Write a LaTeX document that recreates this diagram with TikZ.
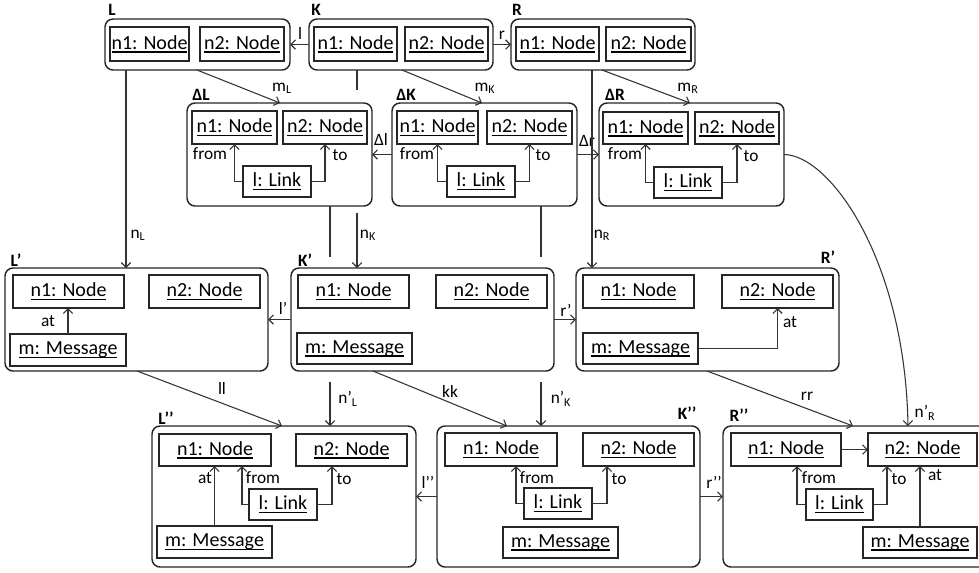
\documentclass[tikz,border=0pt]{standalone}
\usepackage{fontspec}
\setmainfont{Carlito}
\usetikzlibrary{arrows.meta,calc}

% underlined object name with a fixed underline position
\newcommand\objname[1]{\setbox0\hbox{#1}\rlap{\rule[-2.6pt]{\wd0}{0.9pt}}\box0}
% rounded graph frame given by two corners (x1,y1,x2,y2 in px)
\newcommand\frm[5]{\node[frame, minimum width={(#4-#2)*0.75pt}, minimum height={(#5-#3)*0.75pt}] (#1) at ({(#2+#4)/2},{(#3+#5)/2}) {};}
% object box given by two corners
\newcommand\objbox[6]{\node[obj, minimum width={(#4-#2)*0.75pt}, minimum height={(#5-#3)*0.75pt}] (#1) at ({(#2+#4)/2},{(#3+#5)/2}) {\objname{#6}};}
% small text label
\newcommand\lab[4]{\node[elab] (#1) at (#2,#3) {#4};}
% bold graph title
\newcommand\ttl[4]{\node[ttlstyle] (#1) at (#2,#3) {#4};}

\begin{document}
\begin{tikzpicture}[x=0.75pt,y=-0.75pt,
  frame/.style={draw=black!85, line width=1.1pt, rounded corners=6pt, fill=white, inner sep=0pt, outer sep=0pt},
  obj/.style={draw=black!85, line width=1.1pt, fill=white, inner sep=0pt, outer sep=0pt, font=\fontsize{15}{18}\selectfont},
  conn/.style={draw=black!80, line width=0.8pt, -{Straight Barb[length=3.5pt,width=7pt]}},
  plainline/.style={draw=black!80, line width=0.8pt},
  elab/.style={inner sep=0pt, font=\fontsize{13}{15}\selectfont},
  ttlstyle/.style={inner sep=0pt, font=\fontsize{13}{15}\selectfont\bfseries},
]
\useasboundingbox (0,0) rectangle (979,572);
\clip (0,0) rectangle (979,572);

% ---- graph frames ----
\frm{L}{105}{19}{290}{70}
\frm{K}{309}{19}{493}{70}
\frm{R}{511}{19}{695}{70}
\frm{dL}{187}{103}{372}{206}
\frm{dK}{392}{103}{577}{206}
\frm{dR}{599}{103}{784}{206}
\frm{Lp}{5}{268}{268}{371}
\frm{Kp}{291}{268}{554}{371}
\frm{Rp}{576}{268}{839}{371}
\frm{Lpp}{152}{426}{416}{567}
\frm{Kpp}{437}{426}{700}{567}
\frm{Rpp}{723}{426}{1000}{567}

% ---- titles ----
\ttl{tL}{112}{10}{L}
\ttl{tK}{316}{10}{K}
\ttl{tR}{517}{10}{R}
\ttl{tdL}{201}{95}{ΔL}
\ttl{tdK}{406}{95}{ΔK}
\ttl{tdR}{615}{95}{ΔR}
\ttl{tLp}{16}{260}{L’}
\ttl{tKp}{305}{260}{K’}
\ttl{tRp}{828}{257}{R’}
\ttl{tLpp}{166}{418}{L’’}
\ttl{tKpp}{687}{413}{K’’}
\ttl{tRpp}{739}{415}{R’’}

% ---- objects ----
\objbox{Ln1}{110}{27}{189}{61}{n1: Node}
\objbox{Ln2}{200}{27}{284}{61}{n2: Node}
\objbox{Kn1}{314}{27}{397}{61}{n1: Node}
\objbox{Kn2}{405}{27}{488}{61}{n2: Node}
\objbox{Rn1}{516}{27}{599}{61}{n1: Node}
\objbox{Rn2}{606}{27}{691}{61}{n2: Node}

\objbox{dLn1}{192}{111}{277}{144}{n1: Node}
\objbox{dLn2}{283}{111}{367}{144}{n2: Node}
\objbox{dLl}{243}{166}{311}{197}{l: Link}
\objbox{dKn1}{397}{111}{478}{144}{n1: Node}
\objbox{dKn2}{487}{111}{572}{144}{n2: Node}
\objbox{dKl}{447}{166}{515}{197}{l: Link}
\objbox{dRn1}{603}{112}{688}{144}{n1: Node}
\objbox{dRn2}{695}{112}{779}{144}{n2: Node}
\objbox{dRl}{654}{167}{722}{198}{l: Link}

\objbox{Lpn1}{13}{275}{124}{308}{n1: Node}
\objbox{Lpn2}{149}{275}{260}{308}{n2: Node}
\objbox{Lpm}{10}{334}{126}{366}{m: Message}
\objbox{Kpn1}{298}{275}{409}{308}{n1: Node}
\objbox{Kpn2}{436}{275}{547}{308}{n2: Node}
\objbox{Kpm}{297}{333}{412}{364}{m: Message}
\objbox{Rpn1}{583}{275}{694}{308}{n1: Node}
\objbox{Rpn2}{722}{275}{833}{308}{n2: Node}
\objbox{Rpm}{583}{333}{698}{364}{m: Message}

\objbox{Lppn1}{159}{434}{271}{466}{n1: Node}
\objbox{Lppn2}{296}{434}{407}{466}{n2: Node}
\objbox{Lppl}{249}{489}{317}{520}{l: Link}
\objbox{Lppm}{157}{526}{272}{558}{m: Message}
\objbox{Kppn1}{445}{433}{557}{466}{n1: Node}
\objbox{Kppn2}{583}{433}{694}{466}{n2: Node}
\objbox{Kppl}{524}{488}{592}{519}{l: Link}
\objbox{Kppm}{503}{527}{618}{558}{m: Message}
\objbox{Rppn1}{731}{433}{841}{466}{n1: Node}
\objbox{Rppn2}{868}{433}{977}{466}{n2: Node}
\objbox{Rppl}{806}{489}{873}{520}{l: Link}
\objbox{Rppm}{863}{527}{977}{558}{m: Message}

% ---- links inside the graphs ----
\draw[conn] (dLl.west) -| (dLn1.south);
\draw[conn] (dLl.east) -| (dLn2.south);
\draw[conn] (dKl.west) -| (dKn1.south);
\draw[conn] (dKl.east) -| (dKn2.south);
\draw[conn] (dRl.west) -| (dRn1.south);
\draw[conn] (dRl.east) -| (dRn2.south);
\lab{fdL}{210}{154}{from}
\lab{tdL}{340}{155}{to}
\lab{fdK}{417}{154}{from}
\lab{todK}{543}{155}{to}
\lab{fdR}{625}{154}{from}
\lab{todR}{751}{156}{to}

\draw[conn] (Lpm.north) -- (Lpm.north |- Lpn1.south);
\lab{aLp}{48}{321}{at}
\draw[conn] (Rpm.east) -| (Rpn2.south);
\lab{aRp}{790}{322}{at}

\draw[conn] (Lppm.north) -- (Lppm.north |- Lppn1.south);
\draw[conn] (Lppl.west) -| (242,0 |- Lppn1.south);
\draw[conn] (Lppl.east) -| (332,0 |- Lppn2.south);
\lab{aLpp}{205}{478}{at}
\lab{fLpp}{263}{478}{from}
\lab{toLpp}{344}{479}{to}

\draw[conn] (Kppl.west) -| (516,0 |- Kppn1.south);
\draw[conn] (Kppl.east) -| (607,0 |- Kppn2.south);
\lab{fKpp}{537}{478}{from}
\lab{toKpp}{619}{479}{to}

\draw[conn] (Rppn1.east) -- (Rppn2.west);
\draw[conn] (Rppl.west) -| (797,0 |- Rppn1.south);
\draw[conn] (Rppl.east) -| (887,0 |- Rppn2.south);
\draw[conn] (Rppm.north) -- (Rppm.north |- Rppn2.south);
\lab{fRpp}{819}{478}{from}
\lab{toRpp}{899}{479}{to}
\lab{aRpp}{935}{475}{at}

% ---- morphisms between graphs ----
\draw[conn] (K.west) -- (L.east);
\lab{ml}{300}{33}{l}
\draw[conn] (K.east) -- (R.west);
\lab{mr}{502}{35}{r}

\draw[conn] (197,0 |- L.south) -- (280,0 |- dL.north);
\lab{lmL}{282}{88}{m\textsubscript{L}}
\draw[conn] (402,0 |- K.south) -- (482,0 |- dK.north);
\lab{lmK}{485}{88}{m\textsubscript{K}}
\draw[conn] (602,0 |- R.south) -- (690,0 |- dR.north);
\lab{lmR}{688}{88}{m\textsubscript{R}}

\draw[conn] (dK.west) -- (dL.east);
\lab{ldl}{381}{139}{Δl}
\draw[conn] (dK.east) -- (dR.west);
\lab{ldr}{587}{141}{Δr}

\draw[conn] (126,0 |- L.south) -- (126,0 |- Lp.north);
\lab{lnL}{138}{235}{n\textsubscript{L}}
\coordinate (nKa) at (357,90);
\coordinate (nKb) at (357,213);
\draw[plainline] (357,0 |- K.south) -- (nKa);
\draw[conn] (nKb) -- (357,0 |- Kp.north);
\lab{lnK}{368}{235}{n\textsubscript{K}}
\draw[conn] (592,0 |- R.south) -- (592,0 |- Rp.north);
\lab{lnR}{602}{235}{n\textsubscript{R}}

\draw[conn] (Kp.west) -- (Lp.east);
\lab{llp}{283}{308}{l’}
\draw[conn] (Kp.east) -- (Rp.west);
\lab{lrp}{566}{310}{r’}

\coordinate (nLa) at (330,257);
\coordinate (nLb) at (330,382);
\draw[plainline] (330,0 |- dL.south) -- (nLa);
\draw[conn] (nLb) -- (330,0 |- Lpp.north);
\lab{lnLp}{348}{399}{n’\textsubscript{L}}
\coordinate (nKpa) at (541,257);
\coordinate (nKpb) at (541,382);
\draw[plainline] (541,0 |- dK.south) -- (nKpa);
\draw[conn] (nKpb) -- (541,0 |- Kpp.north);
\lab{lnKp}{561}{399}{n’\textsubscript{K}}
\draw[conn] (dR.east) .. controls (830,155) and (905,260) .. (908,0 |- Rpp.north);
\lab{lnRp}{925}{413}{n’\textsubscript{R}}

\draw[conn] (137,0 |- Lp.south) -- (282,0 |- Lpp.north);
\lab{lll}{222}{388}{ll}
\draw[conn] (373,0 |- Kp.south) -- (507,0 |- Kpp.north);
\lab{lkk}{450}{391}{kk}
\draw[conn] (707,0 |- Rp.south) -- (853,0 |- Rpp.north);
\lab{lrr}{807}{396}{rr}

\draw[conn] (Kpp.west) -- (Lpp.east);
\lab{llpp}{428}{482}{l’’}
\draw[conn] (Kpp.east) -- (Rpp.west);
\lab{lrpp}{714}{482}{r’’}
\end{tikzpicture}
\end{document}
